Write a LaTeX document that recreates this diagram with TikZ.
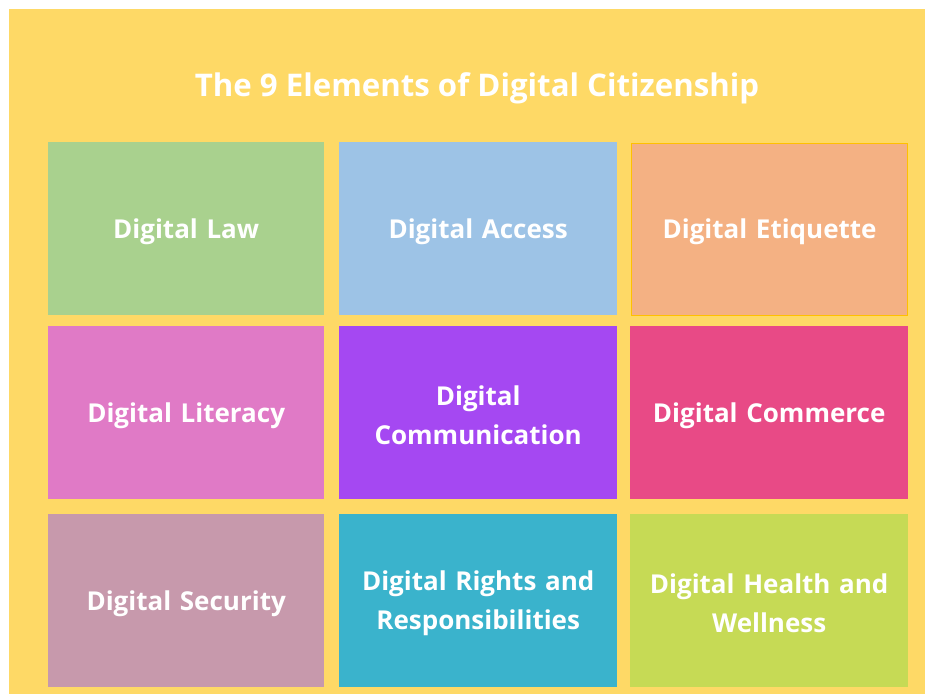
\documentclass[tikz,border=0pt]{standalone}
\usepackage{fontspec}
\setmainfont{Open Sans}
\definecolor{bgyellow}{HTML}{FED966}
\definecolor{cgreen}{HTML}{A9D18E}
\definecolor{cblue}{HTML}{9DC3E6}
\definecolor{corange}{HTML}{F4B183}
\definecolor{cgold}{HTML}{FFC000}
\definecolor{cpink}{HTML}{E07AC6}
\definecolor{cpurple}{HTML}{A548F2}
\definecolor{ccrimson}{HTML}{E84A86}
\definecolor{cmauve}{HTML}{C799AC}
\definecolor{cteal}{HTML}{3AB3CC}
\definecolor{clime}{HTML}{C6DA55}
\tikzset{
  elem/.style={draw=none, minimum width=276pt, minimum height=173pt, inner sep=0pt, anchor=north west},
  elemtext/.style={text=white, font=\fontsize{26}{39}\selectfont\bfseries, align=center, text width=270pt, yshift=-3pt, inner sep=0pt},
  ttl/.style={text=white, font=\fontsize{31.2}{36}\selectfont\bfseries}
}
\begin{document}
\begin{tikzpicture}[x=1pt,y=-1pt]
\useasboundingbox (0,0) rectangle (925,694);
\fill[white] (0,0) rectangle (925,694);
\fill[bgyellow] (9,9) rectangle (925,694);
\node[ttl] (title) at (477,88) {The 9 Elements of Digital Citizenship};
\node[elem, fill=cgreen, label={[elemtext]center:Digital Law}] (law) at (48,142) {};
\node[elem, fill=cblue, minimum width=278pt, label={[elemtext]center:Digital Access}] (access) at (339,142) {};
\node[elem, fill=corange, draw=cgold, line width=1.2pt, minimum width=276pt, minimum height=172pt, label={[elemtext, yshift=1pt]center:Digital Etiquette}] (etiq) at (631,143) {};
\node[elem, fill=cpink, label={[elemtext]center:Digital Literacy}] (lit) at (48,326) {};
\node[elem, fill=cpurple, minimum width=278pt, label={[elemtext]center:Digital\\Communication}] (comm) at (339,326) {};
\node[elem, fill=ccrimson, minimum width=278pt, label={[elemtext]center:Digital Commerce}] (commerce) at (630,326) {};
\node[elem, fill=cmauve, label={[elemtext]center:Digital Security}] (sec) at (48,514) {};
\node[elem, fill=cteal, minimum width=278pt, label={[elemtext]center:Digital Rights and\\Responsibilities}] (rights) at (339,514) {};
\node[elem, fill=clime, minimum width=278pt, label={[elemtext]center:Digital Health and\\Wellness}] (health) at (630,514) {};
\end{tikzpicture}
\end{document}
